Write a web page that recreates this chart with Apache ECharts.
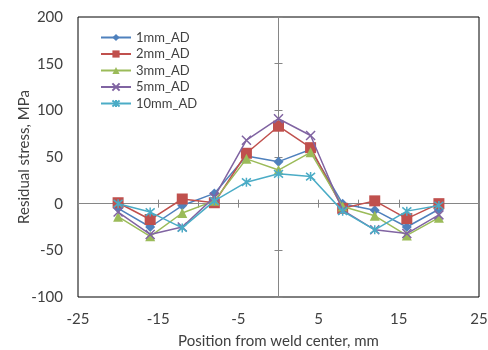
<!DOCTYPE html>
<html>
<head>
<meta charset="utf-8">
<script src="https://cdn.jsdelivr.net/npm/echarts@6/dist/echarts.min.js"></script>
<style>
  html, body { margin: 0; padding: 0; background: #fff; }
  #chart { width: 488px; height: 350px; }
</style>
</head>
<body>
<div id="chart"></div>
<script>
// Positions along the weld (mm)
var positions = [-20, -16, -12, -8, -4, 0, 4, 8, 12, 16, 20];

// Residual stress (MPa) per depth
var names = ['1mm_AD', '2mm_AD', '3mm_AD', '5mm_AD', '10mm_AD'];
var stress1mm = [-5, -25, -2, 11, 51, 45, 58, 0, -7, -25, -6];
var stress2mm = [1, -17, 5, 1, 54, 83, 60, -5, 3, -16, 0];
var stress3mm = [-14, -35, -10, 3, 48, 36, 55, -3, -13, -34, -15];
var stress5mm = [-9, -33, -25, 7, 68, 91, 73, -7, -28, -32, -12];
var stress10mm = [0, -9, -26, 3, 23, 32, 29, -8, -28, -8, -2];

var colors = ['#4F81BD', '#C0504D', '#9BBB59', '#8064A2', '#4BACC6'];
var font = 'Lato';

var chart = echarts.init(document.getElementById('chart'));

function pairs(vals) {
    return positions.map(function (x, i) { return [x, vals[i]]; });
}

var markers = [
    { symbol: 'diamond', size: 10 },
    { symbol: 'rect', size: 11 },
    { symbol: 'triangle', size: 10 },
    { symbol: 'path://M0,0L10,10M10,0L0,10', size: 9, stroke: true },
    { symbol: 'path://M0,0L10,10M10,0L0,10M5,-1L5,11', size: 9, stroke: true }
];

var allData = [stress1mm, stress2mm, stress3mm, stress5mm, stress10mm];

var series = allData.map(function (vals, i) {
    var m = markers[i];
    return {
        name: names[i],
        type: 'line',
        xAxisIndex: 0,
        yAxisIndex: 0,
        data: pairs(vals),
        symbol: m.symbol,
        symbolSize: m.size,
        lineStyle: { color: colors[i], width: 1.5 },
        itemStyle: m.stroke
            ? { color: colors[i], borderColor: colors[i], borderWidth: 1.5 }
            : { color: colors[i] },
        emphasis: { disabled: true },
        z: 3 + i
    };
});

var labelStyle = { color: '#404040', fontFamily: font, fontSize: 15 };

var option = {
    animation: false,
    grid: {
        left: 78, right: 9, top: 17, bottom: 53,
        outerBoundsMode: 'none',
        show: true, borderColor: '#000', borderWidth: 1,
        backgroundColor: 'transparent'
    },
    legend: {
        orient: 'vertical',
        left: 100,
        top: 31,
        padding: 0,
        itemWidth: 30,
        itemHeight: 9,
        itemGap: 3.5,
        textStyle: { color: '#404040', fontFamily: font, fontSize: 13 },
        data: names
    },
    xAxis: [
        {
            type: 'value', min: -25, max: 25, interval: 10,
            position: 'bottom',
            axisLine: { show: false, onZero: false },
            axisTick: { show: false },
            splitLine: { show: false },
            axisLabel: Object.assign({ margin: 15 }, labelStyle),
            name: 'Position from weld center, mm',
            nameLocation: 'middle',
            nameGap: 37,
            nameMoveOverlap: false,
            nameTextStyle: { color: '#404040', fontFamily: font, fontSize: 15 }
        },
        {
            type: 'value', min: -25, max: 25, interval: 5,
            position: 'bottom',
            axisLine: { show: true, onZero: true, onZeroAxisIndex: 0, lineStyle: { color: '#868686', width: 1 } },
            axisTick: { show: true, inside: false, length: 4, lineStyle: { color: '#868686' } },
            splitLine: { show: false },
            axisLabel: { show: false }
        },
        {
            type: 'value', min: -25, max: 25, interval: 5,
            position: 'bottom',
            axisLine: { show: false, onZero: true, onZeroAxisIndex: 0 },
            axisTick: { show: true, inside: true, length: 4, lineStyle: { color: '#868686' } },
            splitLine: { show: false },
            axisLabel: { show: false }
        }
    ],
    yAxis: [
        {
            type: 'value', min: -100, max: 200, interval: 50,
            position: 'left',
            axisLine: { show: false, onZero: false },
            axisTick: { show: false },
            splitLine: { show: false },
            axisLabel: Object.assign({ margin: 15 }, labelStyle),
            name: 'Residual stress, MPa',
            nameLocation: 'middle',
            nameGap: 46,
            nameMoveOverlap: false,
            nameTextStyle: { color: '#404040', fontFamily: font, fontSize: 15 }
        },
        {
            type: 'value', min: -100, max: 200, interval: 50,
            position: 'left',
            axisLine: { show: true, onZero: true, onZeroAxisIndex: 0, lineStyle: { color: '#868686', width: 1 } },
            axisTick: { show: true, inside: false, length: 4, lineStyle: { color: '#868686' } },
            splitLine: { show: false },
            axisLabel: { show: false }
        },
        {
            type: 'value', min: -100, max: 200, interval: 50,
            position: 'left',
            axisLine: { show: false, onZero: true, onZeroAxisIndex: 0 },
            axisTick: { show: true, inside: true, length: 4, lineStyle: { color: '#868686' } },
            splitLine: { show: false },
            axisLabel: { show: false }
        }
    ],
    series: series
};

chart.setOption(option);
</script>
</body>
</html>
